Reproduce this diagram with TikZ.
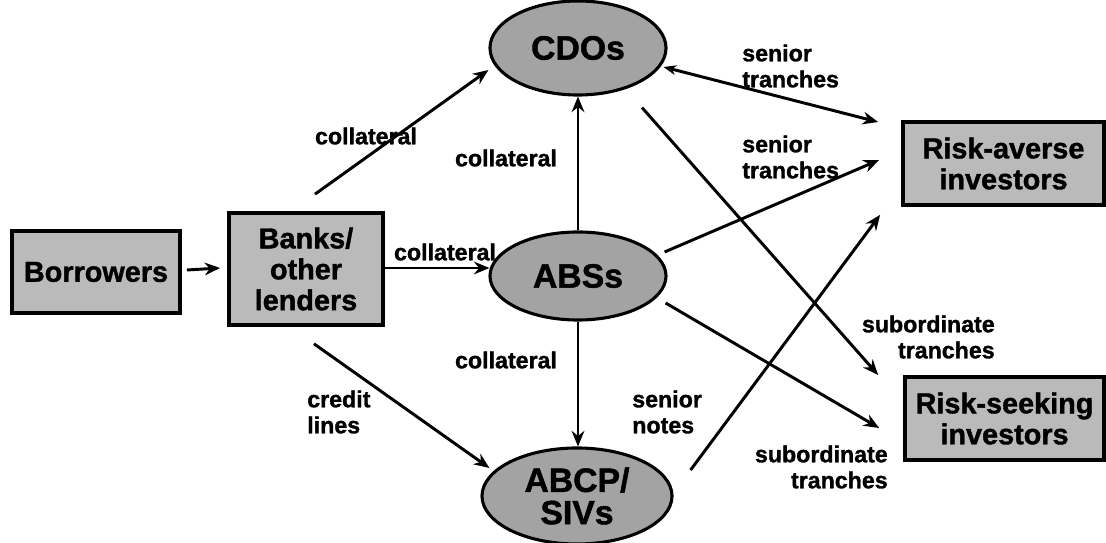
\documentclass[tikz,border=0pt]{standalone}
\usepackage{fontspec}
\setmainfont{Liberation Sans}[BoldFeatures={FakeBold=1.3}]
\usetikzlibrary{calc,shapes.geometric,arrows.meta}
\begin{document}
\begin{tikzpicture}[x=0.025cm,y=-0.025cm,
  arr/.style={line width=2.1pt,-{Stealth[length=11pt,width=9pt]}},
  dblarr/.style={line width=2.1pt,{Stealth[length=9pt,width=7pt]}-{Stealth[length=11pt,width=9pt]}},
  boxnode/.style={draw,line width=2.6pt,fill=black!27,inner sep=0pt,align=center,
    font=\bfseries\fontsize{20.5}{22}\selectfont},
  ellnode/.style={ellipse,draw,line width=2.2pt,fill=black!36,inner sep=0pt,align=center,
    font=\bfseries\fontsize{24}{23}\selectfont},
  lbl/.style={inner sep=0pt,font=\bfseries\fontsize{16.5}{18.5}\selectfont}]
\useasboundingbox (0,0) rectangle (1106,543);

% boxes
\node[boxnode,minimum width=4.2cm,minimum height=2.05cm] (borrowers) at (96,272) {Borrowers};
\node[boxnode,minimum width=3.85cm,minimum height=2.8cm] (banks) at (306,269) {Banks/\\other\\lenders};
\node[boxnode,minimum width=5.025cm,minimum height=2.075cm] (averse) at (1003.5,163.5) {Risk-averse\\investors};
\node[boxnode,minimum width=4.975cm,minimum height=2.075cm] (seeking) at (1004.5,418.5) {Risk-seeking\\investors};

% securitisation vehicles
\node[ellnode,minimum width=4.4cm,minimum height=2.35cm] (cdo) at (578,48) {CDOs};
\node[ellnode,minimum width=4.4cm,minimum height=2.2cm] (abs) at (578,276) {ABSs};
\node[ellnode,minimum width=4.75cm,minimum height=2.4cm] (abcp) at (577,496) {ABCP/\\SIVs};

% flows
\draw[arr] ($(borrowers.east)+(5,-2)$) -- ($(banks.west)+(-7,-1)$);
\draw[arr] ($(banks.east)+(0,-1)$) -- ($(abs.west)+(1,-8)$);
\draw[arr] ($(banks.north)+(9,-17)$) -- ($(cdo.west)+(0,22)$);
\draw[arr] ($(banks.south)+(8,17)$) -- ($(abcp.west)+(9,-28)$);
\draw[arr] (abs.north) -- (cdo.south);
\draw[arr] (abs.south) -- (abs.south|-abcp.north);
\draw[dblarr] ($(cdo.east)+(-4,19)$) -- ($(averse.west)+(-23,-41.5)$);
\draw[arr] ($(abs.east)+(-3,-24)$) -- ($(averse.west)+(-22,-3.5)$);
\draw[arr] ($(cdo.south)+(64,11)$) -- ($(seeking.west)+(-25,-43.5)$);
\draw[arr] ($(abs.east)+(-2,27)$) -- ($(seeking.west)+(-24,9.5)$);
\draw[arr] ($(abcp.east)+(17,-26)$) -- ($(averse.south west)+(-21,8)$);

% flow labels
\node[lbl] (l1) at (366,136) {collateral};
\node[lbl] (l2) at (445,252) {collateral};
\node[lbl] (l3) at (506,158) {collateral};
\node[lbl] (l4) at (506,360) {collateral};
\node[lbl,anchor=west,align=left] (l5) at (307,412) {credit\\lines};
\node[lbl,anchor=west,align=left] (l6) at (632,412) {senior\\notes};
\node[lbl,anchor=west,align=left] (l7) at (742,66) {senior\\tranches};
\node[lbl,anchor=west,align=left] (l8) at (742,157) {senior\\tranches};
\node[lbl,anchor=east,align=right] (l9) at (995,337) {subordinate\\tranches};
\node[lbl,anchor=east,align=right] (l10) at (888,467) {subordinate\\tranches};
\end{tikzpicture}
\end{document}
